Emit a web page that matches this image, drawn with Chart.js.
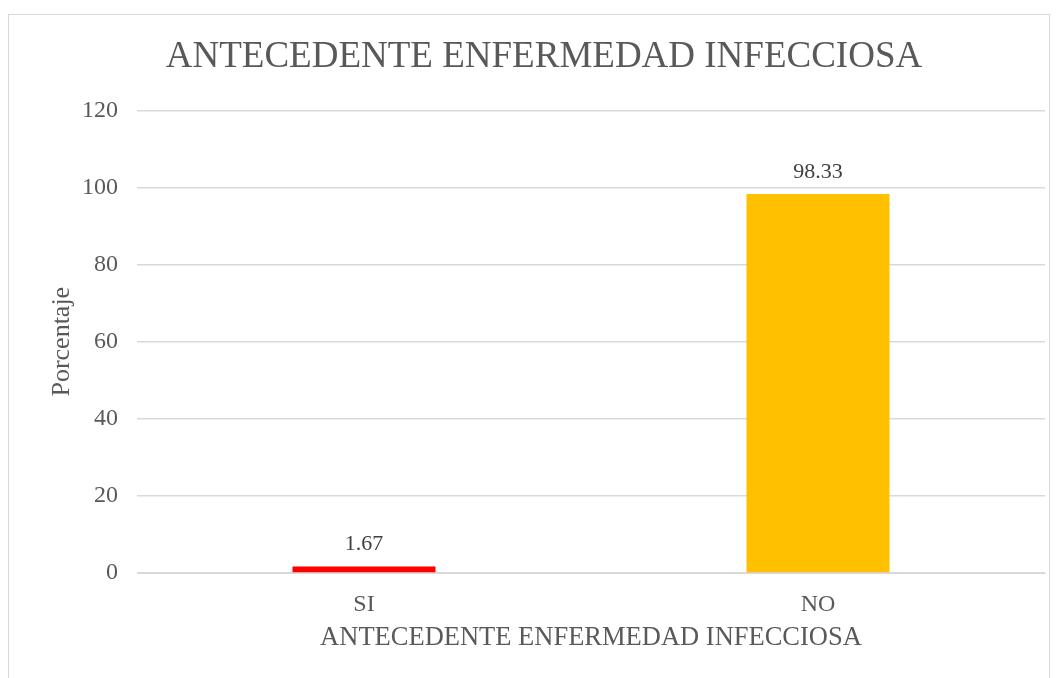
<!DOCTYPE html>
<html>
<head>
<meta charset="utf-8">
<script src="https://cdn.jsdelivr.net/npm/chart.js@4.4.1/dist/chart.umd.min.js"></script>
<style>
  body { margin: 0; background: #fff; }
  #wrap { position: relative; width: 1061px; height: 678px; }
  #frame { position: absolute; left: 8px; top: 14px; width: 1042px; height: 680px; border: 1px solid #d9d9d9; box-sizing: border-box; }
  canvas { position: absolute; left: 0; top: 0; }
</style>
</head>
<body>
<div id="wrap">
  <div id="frame"></div>
  <canvas id="chart" width="1061" height="678"></canvas>
</div>
<script>
const categories = ["SI", "NO"];
const values = [1.67, 98.33];
const barColors = ["#FF0000", "#FFC000"];
const yTicks = [0, 20, 40, 60, 80, 100, 120];

const fontFamily = "'Liberation Serif', 'Times New Roman', serif";
const textColor = "#595959";

// dibuja los valores encima de cada barra
const valueLabels = {
    id: "valueLabels",
    afterDatasetsDraw(chart) {
        const ctx = chart.ctx;
        const meta = chart.getDatasetMeta(0);
        ctx.save();
        ctx.font = "22px " + fontFamily;
        ctx.fillStyle = "#404040";
        ctx.textAlign = "center";
        ctx.textBaseline = "bottom";
        meta.data.forEach((bar, i) => {
            ctx.fillText(values[i].toFixed(2), bar.x, bar.y - 11);
        });
        ctx.restore();
    }
};

new Chart(document.getElementById("chart"), {
    type: "bar",
    data: {
        labels: categories,
        datasets: [{
            data: values,
            backgroundColor: barColors,
            categoryPercentage: 1,
            barPercentage: 0.315
        }]
    },
    options: {
        responsive: false,
        animation: false,
        layout: { padding: { left: 43, right: 16, top: 14, bottom: 20 } },
        plugins: {
            legend: { display: false },
            tooltip: { enabled: false },
            title: {
                display: true,
                text: "ANTECEDENTE ENFERMEDAD INFECCIOSA",
                color: textColor,
                font: { family: fontFamily, size: 37, weight: "normal" },
                padding: { top: 21, bottom: 31 }
            }
        },
        scales: {
            x: {
                grid: { display: false },
                border: { color: "#d9d9d9" },
                ticks: { color: textColor, font: { family: fontFamily, size: 24 }, padding: 9 },
                title: {
                    display: true,
                    text: "ANTECEDENTE ENFERMEDAD INFECCIOSA",
                    color: textColor,
                    font: { family: fontFamily, size: 26.5 },
                    padding: { top: 0 }
                },
                afterFit(scale) { scale.height = 85; }
            },
            y: {
                min: 0,
                max: 120,
                afterBuildTicks(scale) { scale.ticks = yTicks.map(v => ({ value: v })); },
                grid: { color: "#d9d9d9", lineWidth: 1.5, drawTicks: false },
                border: { display: false },
                ticks: { color: textColor, font: { family: fontFamily, size: 24 }, padding: 19 },
                title: {
                    display: true,
                    text: "Porcentaje",
                    color: textColor,
                    font: { family: fontFamily, size: 26 }
                },
                afterFit(scale) { scale.width = 94; }
            }
        }
    },
    plugins: [valueLabels]
});
</script>
</body>
</html>
